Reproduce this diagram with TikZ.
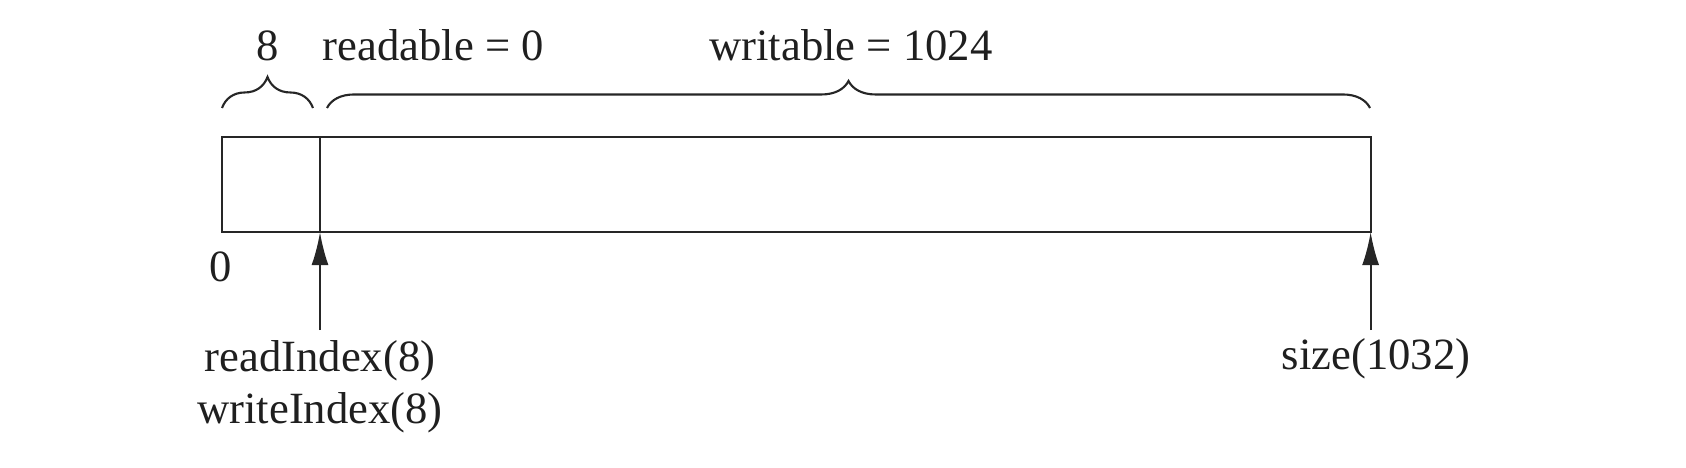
\documentclass[tikz,border=0pt]{standalone}
\usepackage{fontspec}
\setmainfont{Liberation Serif}
\usepackage{tikz}
\usetikzlibrary{arrows.meta,decorations.pathreplacing,positioning}

\begin{document}
\begin{tikzpicture}[x=0.01cm,y=-0.01cm]
	\tikzstyle{Txt}		= [inner sep=0pt, text=black!88, font=\fontsize{12.7}{15}\selectfont]
	\tikzstyle{Cell}	= [draw=black!85, line width=0.6pt, minimum height=0.95cm, inner sep=0pt, outer sep=0pt, anchor=north west]
	\tikzstyle{Brace}	= [draw=black!85, line width=0.6pt, decorate, decoration={brace}]
	\tikzstyle{Ptr}		= [draw=black!85, line width=0.6pt, -{Latex[length=0.33cm,width=0.17cm]}]

	\useasboundingbox (0,0) rectangle (1686,468);

	% buffer
	\node (pre) at (222,137) [Cell, minimum width=0.98cm] {};
	\node (data) at (320,137) [Cell, minimum width=10.5cm] {};

	% braces and sizes
	\draw [Brace, decoration={amplitude=0.31cm}] (222,108) -- (313,108);
	\draw [Brace, decoration={amplitude=0.27cm}] (327,108) -- (1370,108);
	\node (n8) at (268,61) [Txt, anchor=base] {8};
	\node (readable) at (322,61) [Txt, anchor=base west] {readable = 0};
	\node (writable) at (851,61) [Txt, anchor=base] {writable = 1024};
	\node (zero) at (221,282) [Txt, anchor=base] {0};

	% indices
	\coordinate (rEnd) at ([yshift=-0.98cm]data.south west);
	\coordinate (sEnd) at ([yshift=-0.98cm]data.south east);
	\draw [Ptr] (rEnd) -- (data.south west);
	\draw [Ptr] (sEnd) -- (data.south east);
	\node (rIdx) at (320,372) [Txt, anchor=base] {readIndex(8)};
	\node (wIdx) at (320,424) [Txt, anchor=base] {writeIndex(8)};
	\node (size) at (1376,370) [Txt, anchor=base] {size(1032)};
\end{tikzpicture}
\end{document}
